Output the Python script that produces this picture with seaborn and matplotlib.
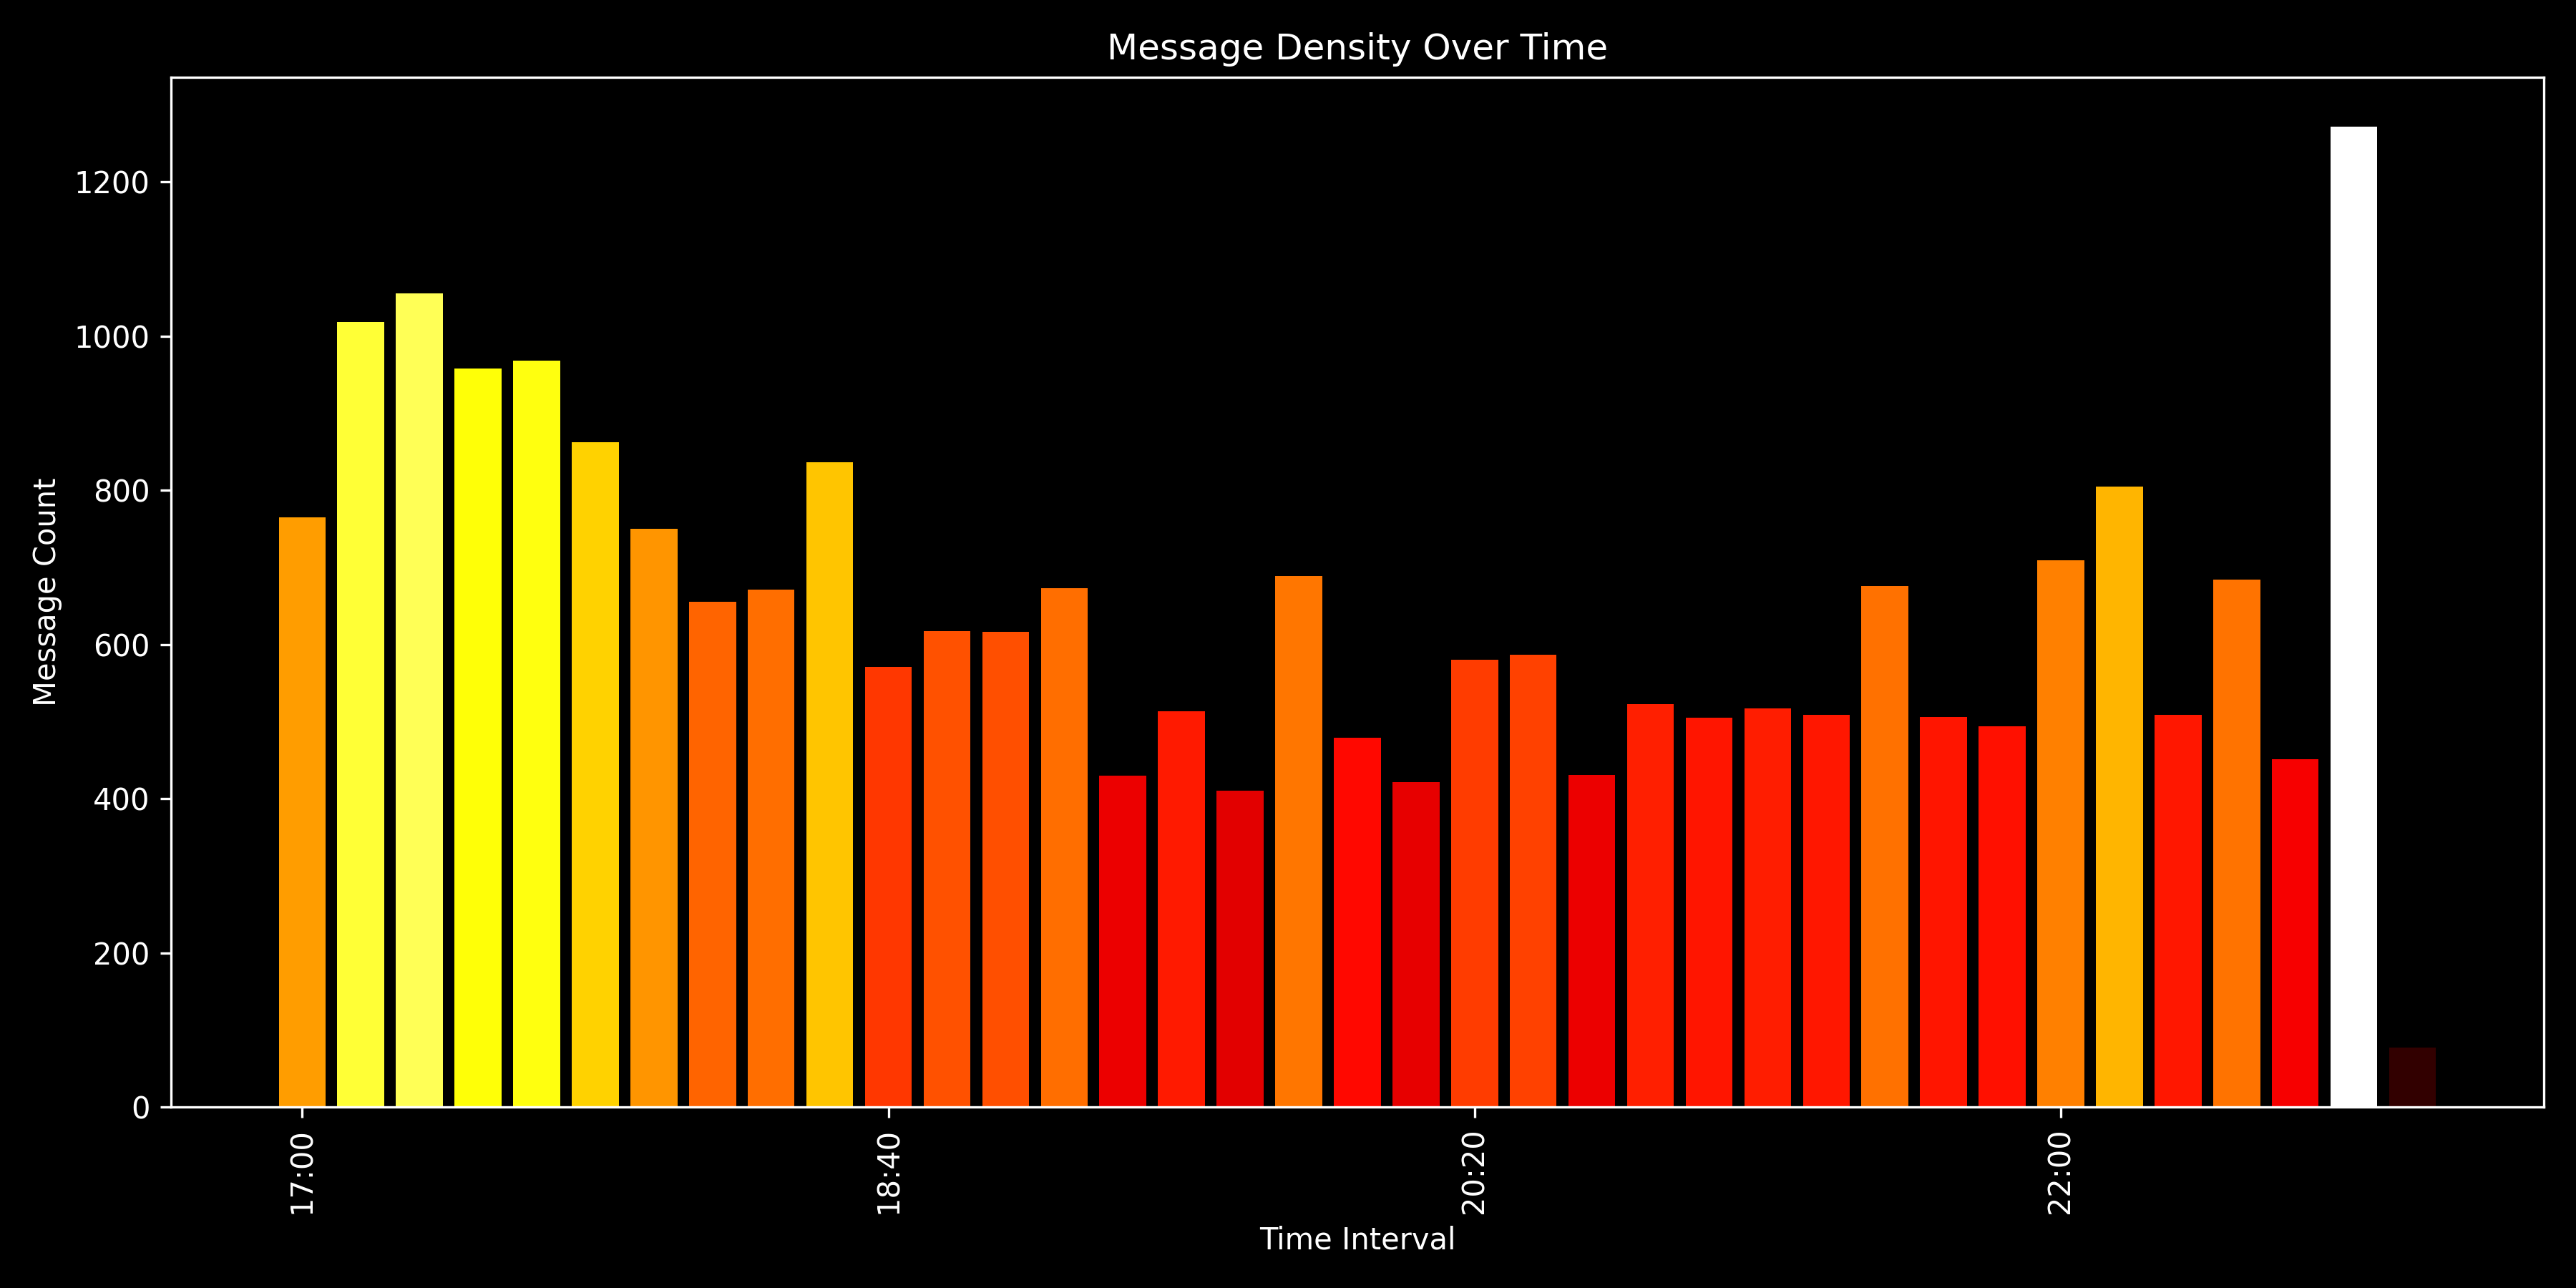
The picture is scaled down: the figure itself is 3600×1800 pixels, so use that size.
import numpy as np
import pandas as pd
import matplotlib
matplotlib.use("Agg")
import matplotlib.pyplot as plt
import seaborn as sns

times = ["17:00", "17:10", "17:20", "17:30", "17:40", "17:50",
         "18:00", "18:10", "18:20", "18:30", "18:40", "18:50",
         "19:00", "19:10", "19:20", "19:30", "19:40", "19:50",
         "20:00", "20:10", "20:20", "20:30", "20:40", "20:50",
         "21:00", "21:10", "21:20", "21:30", "21:40", "21:50",
         "22:00", "22:10", "22:20", "22:30", "22:40", "22:50",
         "23:00"]
counts = [765, 1018, 1055, 958, 968, 862,
          750, 655, 671, 836, 571, 617,
          616, 673, 430, 513, 410, 689,
          479, 421, 580, 587, 431, 523,
          505, 517, 509, 676, 506, 494,
          709, 805, 509, 684, 451, 1272,
          77]

df = pd.DataFrame({"pos": np.arange(len(times)), "time": times, "count": counts})
# colour by count relative to the busiest interval
cmap = plt.cm.hot
palette = {t: cmap(c / max(counts)) for t, c in zip(times, counts)}

plt.style.use("dark_background")
fig, ax = plt.subplots(figsize=(12, 6), dpi=300)
sns.barplot(data=df, x="pos", y="count", hue="time", palette=palette,
            native_scale=True, dodge=False, saturation=1, linewidth=0,
            legend=False, ax=ax)

tick_pos = df["pos"][::10]
ax.set_xticks(tick_pos)
ax.set_xticklabels(df["time"][::10], rotation=90)
ax.set_title("Message Density Over Time")
ax.set_xlabel("Time Interval")
ax.set_ylabel("Message Count")
plt.tight_layout()
plt.savefig("out.png", dpi=300)
